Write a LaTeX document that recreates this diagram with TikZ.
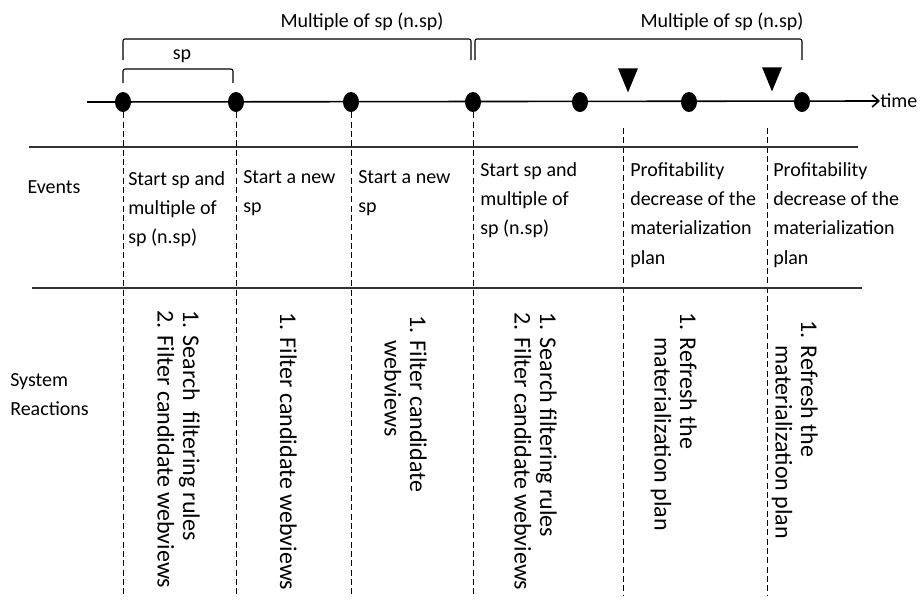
\documentclass[tikz,border=0pt]{standalone}
\usepackage{fontspec}
\setmainfont{Carlito}
\usetikzlibrary{arrows.meta,shapes.geometric}

\begin{document}
\begin{tikzpicture}[x=0.75pt,y=-0.75pt,
    tdot/.style={ellipse,fill,inner sep=0pt,minimum width=12pt,minimum height=15pt},
    trimark/.style={isosceles triangle,isosceles triangle apex angle=45,shape border rotate=-90,fill,inner sep=0pt,minimum height=18pt},
    guide/.style={dash pattern=on 4.5pt off 2.5pt,line width=0.7pt},
    sepline/.style={line width=1.2pt,draw=black!80},
    bracket/.style={line width=0.8pt,rounded corners=1.5pt},
    lbl/.style={font=\fontsize{15}{22}\selectfont,inner sep=0pt},
    event/.style={lbl,anchor=north west,align=left},
    reaction/.style={font=\fontsize{18}{19}\selectfont,inner sep=0pt,rotate=-90,anchor=north west,align=left}]
        \useasboundingbox (0,0) rectangle (922,601);
        %% Timeline
        \coordinate (start) at (87,102);
        \node[lbl,anchor=west] (time) at (880,101) {time};
        \draw[line width=1.2pt,-{Straight Barb[length=5pt,width=9pt]}] (start) -- (time.west);
        \foreach \x [count=\i] in {123,236,351,473,580,689,802}
            \node[tdot] (t\i) at (\x,102) {};
        \node[trimark] (m1) at (628,75) {};
        \node[trimark] (m2) at (772,74) {};
        %% Brackets
        \draw[bracket] (t1 |- 0,83) |- (233,69) -- (233,83);
        \node[lbl,anchor=base] (sp) at (182,59) {sp};
        \draw[bracket] (t1 |- 0,60) |- (471,39) -- (471,60);
        \draw[bracket] (475,60) |- (t7 |- 0,39) -- (t7 |- 0,60);
        \node[lbl,anchor=base] (n1) at (362,27) {Multiple of sp (n.sp)};
        \node[lbl,anchor=base] (n2) at (722,27) {Multiple of sp (n.sp)};
        %% Columns
        \foreach \i in {1,...,4}
            \draw[guide] (t\i) -- (t\i |- 0,596);
        \draw[guide] (623,128) -- (623,596);
        \draw[guide] (767,128) -- (767,596);
        \draw[sepline] (29,147) -- (858,147);
        \draw[sepline] (32,288) -- (862,288);
        %% Events
        \node[lbl,anchor=base] (events) at (54,193) {Events};
        \node[event] (e1) at (128,171) {Start sp and\\multiple of\\sp (n.sp)};
        \node[event] (e2) at (243,170) {Start a new\\sp};
        \node[event] (e3) at (358,170) {Start a new\\sp};
        \node[event] (e4) at (480,162) {Start sp and\\multiple of\\sp (n.sp)};
        \node[event] (e5) at (630,162) {Profitability\\decrease of the\\materialization\\plan};
        \node[event] (e6) at (773,162) {Profitability\\decrease of the\\materialization\\plan};
        %% Reactions
        \node[event] (system) at (10,373) {System\\Reactions};
        \node[reaction] (r1) at (200,310) {1. Search\ \ filtering rules\\2. Filter candidate webviews};
        \node[reaction] (r2) at (297,312) {1. Filter candidate webviews};
        \node[reaction] (r3) at (427,315) {1. Filter candidate\\\phantom{1. }webviews};
        \node[reaction] (r4) at (557,312) {1. Search filtering rules\\2. Filter candidate webviews};
        \node[reaction] (r5) at (697,312) {1. Refresh the\\\phantom{1. }materialization plan};
        \node[reaction] (r6) at (818,320) {1. Refresh the\\\phantom{1. }materialization plan};
    \end{tikzpicture}
\end{document}
